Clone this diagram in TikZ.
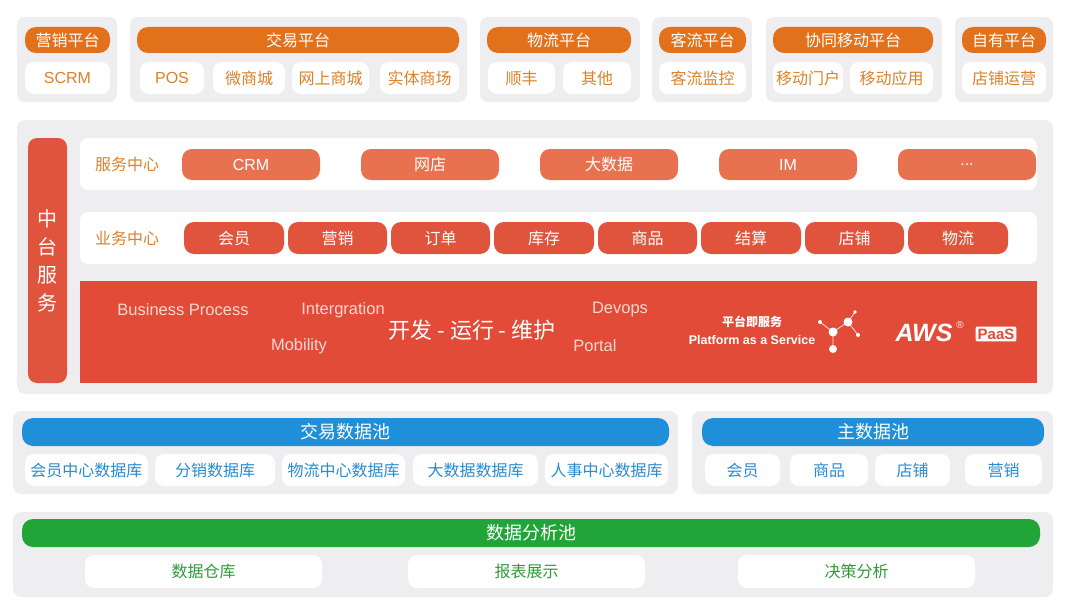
\documentclass[tikz,border=0pt]{standalone}
\usepackage{fontspec}
\setmainfont{Noto Sans CJK SC}
\newfontfamily\lib{Liberation Sans}
\begin{document}
\begin{tikzpicture}[x=1pt,y=-1pt,
  grp/.style={fill=grayb,rounded corners=8pt,inner sep=0,outer sep=0},
  wb/.style={fill=white,rounded corners=8pt,inner sep=0,outer sep=0},
  hdr/.style={fill=orangeh,text=white,rounded corners=11pt,inner sep=0,font=\fontsize{16}{18}\selectfont},
  sub/.style={fill=white,text=oranget,rounded corners=9pt,inner sep=0,font=\fontsize{16}{18}\selectfont},
  svp/.style={fill=svc,text=white,rounded corners=10pt,inner sep=0,font=\fontsize{16}{18}\selectfont},
  bzp/.style={fill=biz,text=white,rounded corners=10pt,inner sep=0,font=\fontsize{16}{18}\selectfont},
  lbl/.style={text=oranget,font=\fontsize{16}{18}\selectfont},
  bh/.style={fill=blueh,text=white,rounded corners=11pt,inner sep=0,font=\fontsize{18}{20}\selectfont},
  gh/.style={fill=greenh,text=white,rounded corners=11pt,inner sep=0,font=\fontsize{18}{20}\selectfont},
  bsub/.style={fill=white,text=bluet,rounded corners=9pt,inner sep=0,font=\fontsize{16}{18}\selectfont},
  gsub/.style={fill=white,text=greent,rounded corners=9pt,inner sep=0,font=\fontsize{16}{18}\selectfont},
  rt/.style={text=redt,font=\lib\fontsize{16.5}{18}\selectfont},
]
\definecolor{grayb}{HTML}{EEEEF0}
\definecolor{orangeh}{HTML}{E2711B}
\definecolor{oranget}{HTML}{D9822B}
\definecolor{svc}{HTML}{E8724F}
\definecolor{biz}{HTML}{E0533D}
\definecolor{redband}{HTML}{E14B37}
\definecolor{redt}{HTML}{F8D8D0}
\definecolor{blueh}{HTML}{1E8FD8}
\definecolor{bluet}{HTML}{2A8BD0}
\definecolor{greenh}{HTML}{22A538}
\definecolor{greent}{HTML}{2E9B3B}
\newcommand\bx[7]{\node[#2,minimum width=\dimexpr#5pt-#3pt\relax,minimum height=\dimexpr#6pt-#4pt\relax] (#1) at ({(#3+#5)/2},{(#4+#6)/2}) {#7};}
\useasboundingbox (0,0) rectangle (1080,610);
% top groups
\bx{g1}{grp}{17}{17}{117}{102}{}
\bx{h1}{hdr}{25}{27}{110}{53}{营销平台}
\bx{s11}{sub}{25}{62}{110}{94}{\lib SCRM}
\bx{g2}{grp}{130}{17}{467}{102}{}
\bx{h2}{hdr}{137}{27}{459}{53}{交易平台}
\bx{s21}{sub}{140}{62}{204}{94}{\lib POS}
\bx{s22}{sub}{213}{62}{285}{94}{微商城}
\bx{s23}{sub}{292}{62}{369}{94}{网上商城}
\bx{s24}{sub}{380}{62}{459}{94}{实体商场}
\bx{g3}{grp}{480}{17}{640}{102}{}
\bx{h3}{hdr}{487}{27}{631}{53}{物流平台}
\bx{s31}{sub}{488}{62}{555}{94}{顺丰}
\bx{s32}{sub}{563}{62}{631}{94}{其他}
\bx{g4}{grp}{652}{17}{752}{102}{}
\bx{h4}{hdr}{659}{27}{746}{53}{客流平台}
\bx{s41}{sub}{659}{62}{746}{94}{客流监控}
\bx{g5}{grp}{766}{17}{942}{102}{}
\bx{h5}{hdr}{773}{27}{933}{53}{协同移动平台}
\bx{s51}{sub}{773}{62}{843}{94}{移动门户}
\bx{s52}{sub}{850}{62}{933}{94}{移动应用}
\bx{g6}{grp}{955}{17}{1053}{102}{}
\bx{h6}{hdr}{962}{27}{1046}{53}{自有平台}
\bx{s61}{sub}{962}{62}{1046}{94}{店铺运营}
% middle
\bx{gm}{grp}{17}{120}{1053}{394}{}
\bx{bar}{fill=biz,rounded corners=9pt,inner sep=0,text=white,align=center,font=\fontsize{20}{28}\selectfont}{28}{138}{67}{383}{中\\台\\服\\务}
\bx{r1}{wb}{80}{138}{1037}{190}{}
\node[lbl] (l1) at (127,164) {服务中心};
\bx{p1}{svp}{182}{149}{320}{180}{\lib CRM}
\bx{p2}{svp}{361}{149}{499}{180}{网店}
\bx{p3}{svp}{540}{149}{678}{180}{大数据}
\bx{p4}{svp}{719}{149}{857}{180}{\lib IM}
\bx{p5}{svp}{898}{149}{1036}{180}{\lib ...}
\bx{r2}{wb}{80}{212}{1037}{264}{}
\node[lbl] (l2) at (127,238) {业务中心};
\bx{q1}{bzp}{184}{222}{284}{254}{会员}
\bx{q2}{bzp}{288}{222}{387}{254}{营销}
\bx{q3}{bzp}{391}{222}{490}{254}{订单}
\bx{q4}{bzp}{494}{222}{594}{254}{库存}
\bx{q5}{bzp}{598}{222}{697}{254}{商品}
\bx{q6}{bzp}{701}{222}{801}{254}{结算}
\bx{q7}{bzp}{805}{222}{904}{254}{店铺}
\bx{q8}{bzp}{908}{222}{1008}{254}{物流}
\bx{band}{fill=redband,inner sep=0}{80}{281}{1037}{383}{}
\node[rt] (t1) at (183,310) {Business Process};
\node[rt] (t2) at (343,310) {Intergration};
\node[rt] (t3) at (299,346) {Mobility};
\node[text=white,font=\fontsize{22}{24}\selectfont] (t4) at (472,330) {开发 - 运行 - 维护};
\node[rt] (t5) at (620,310) {Devops};
\node[rt] (t6) at (595,346) {Portal};
\node[text=white,font=\bfseries\fontsize{12}{13}\selectfont] (t7) at (752,322) {平台即服务};
\node[text=white,font=\lib\bfseries\fontsize{12.5}{13}\selectfont] (t8) at (752,340) {Platform as a Service};
\coordinate (m0) at (833,332);
\coordinate (m1) at (820,322);
\coordinate (m2) at (848,322);
\coordinate (m3) at (855,312);
\coordinate (m4) at (858,335);
\coordinate (m5) at (833,349);
\draw[white!85!redband,line width=0.8pt] (m1)--(m0)--(m2)--(m3) (m2)--(m4) (m0)--(m5);
\fill[white] (m0) circle (4.5) (m2) circle (4.5) (m5) circle (4) (m1) circle (2) (m3) circle (1.8) (m4) circle (2);
\node[text=white,font=\lib\bfseries\itshape\fontsize{25}{26}\selectfont] (aws) at (924,333) {AWS};
\node[text=white,font=\lib\fontsize{10}{10}\selectfont] (reg) at (960,325) {®};
\node[fill=white,text=redband,inner sep=2pt,rounded corners=1pt,font=\lib\bfseries\fontsize{15}{16}\selectfont] (paas) at (996,334) {PaaS};
% data pools
\bx{gd1}{grp}{13}{411}{678}{494}{}
\bx{bh1}{bh}{22}{418}{669}{446}{交易数据池}
\bx{d1}{bsub}{25}{454}{148}{486}{会员中心数据库}
\bx{d2}{bsub}{155}{454}{275}{486}{分销数据库}
\bx{d3}{bsub}{282}{454}{405}{486}{物流中心数据库}
\bx{d4}{bsub}{413}{454}{538}{486}{大数据数据库}
\bx{d5}{bsub}{545}{454}{668}{486}{人事中心数据库}
\bx{gd2}{grp}{692}{411}{1053}{494}{}
\bx{bh2}{bh}{702}{418}{1044}{446}{主数据池}
\bx{e1}{bsub}{705}{454}{780}{486}{会员}
\bx{e2}{bsub}{790}{454}{868}{486}{商品}
\bx{e3}{bsub}{875}{454}{950}{486}{店铺}
\bx{e4}{bsub}{965}{454}{1042}{486}{营销}
\bx{gd3}{grp}{13}{512}{1053}{597}{}
\bx{gh1}{gh}{22}{519}{1040}{547}{数据分析池}
\bx{f1}{gsub}{85}{555}{322}{588}{数据仓库}
\bx{f2}{gsub}{408}{555}{645}{588}{报表展示}
\bx{f3}{gsub}{738}{555}{975}{588}{决策分析}
\end{tikzpicture}
\end{document}
